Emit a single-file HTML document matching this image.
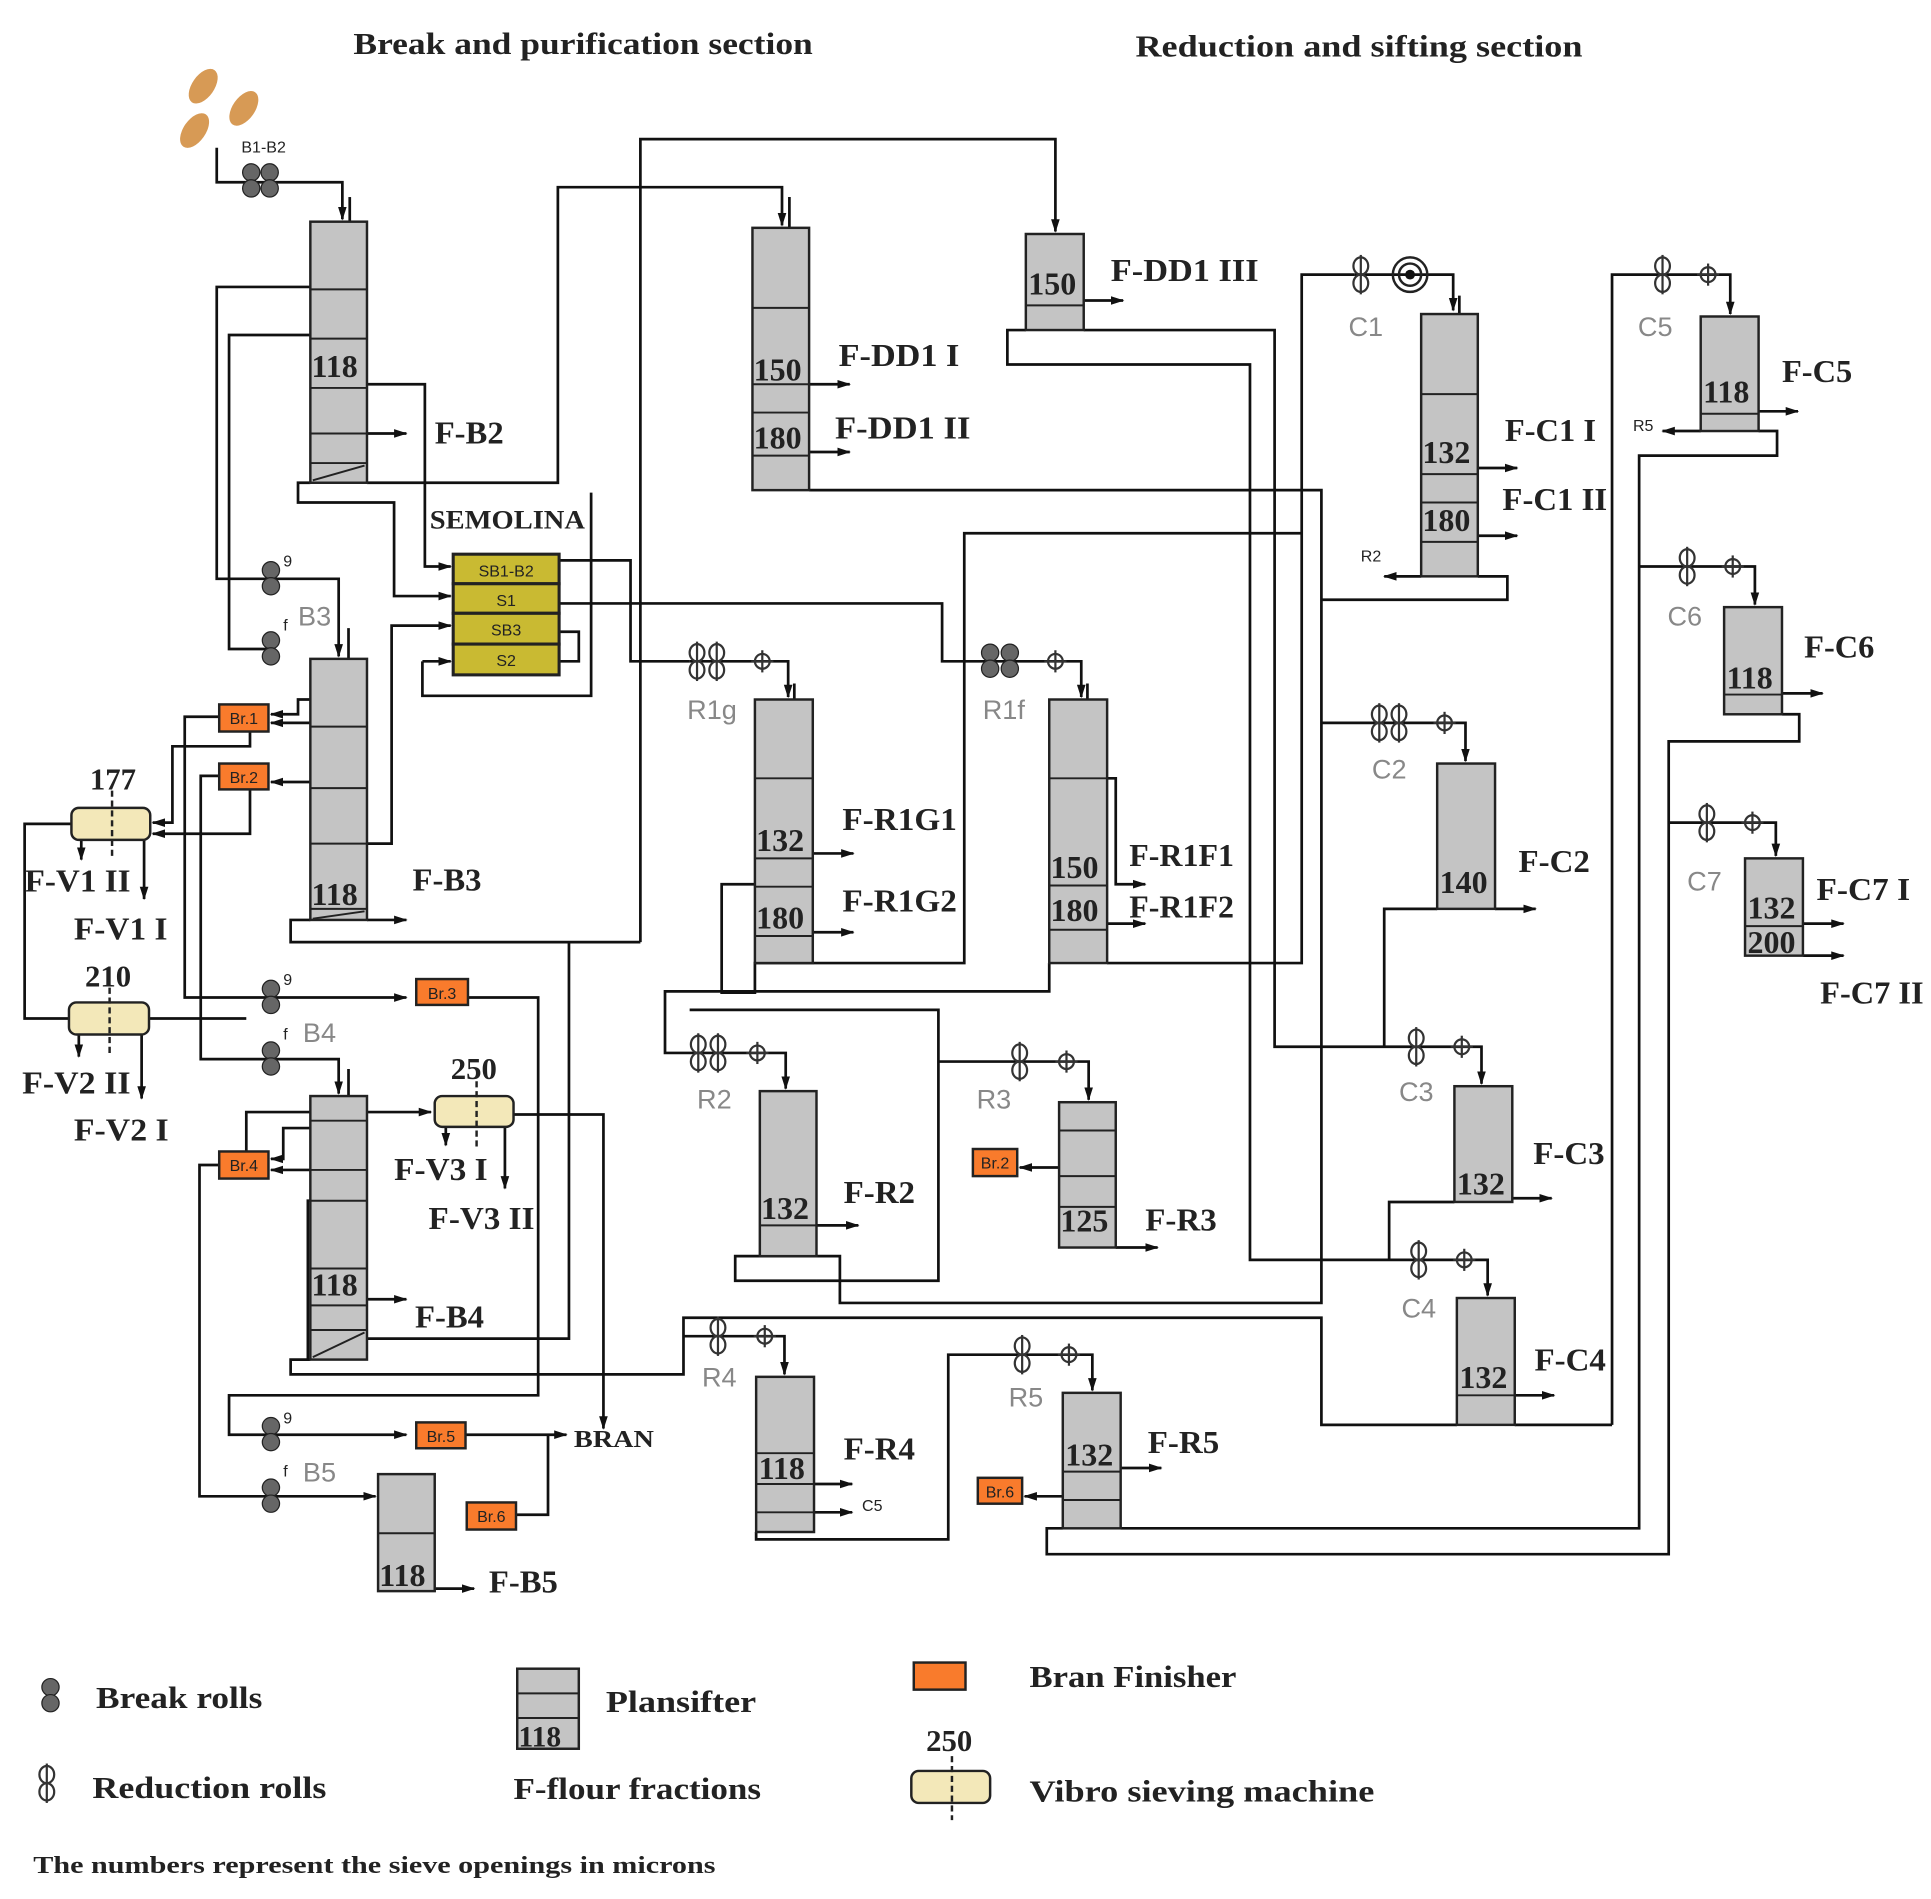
<!DOCTYPE html>
<html><head><meta charset="utf-8"><style>
html,body{margin:0;padding:0;background:#fff;}
svg{display:block;}
text{font-family:"Liberation Serif",serif;font-weight:bold;fill:#222;}
.l{fill:none;stroke:#111;stroke-width:2.2;}
.p{fill:#c4c4c4;stroke:#222;stroke-width:2;}
.d{stroke:#222;stroke-width:1.6;}
.br{fill:#f97b2c;stroke:#222;stroke-width:2;}
.bt{font-family:"Liberation Sans",sans-serif;font-weight:normal;font-size:13px;fill:#222;}
.v{fill:#f3e8b9;stroke:#222;stroke-width:2;}
.g{font-family:"Liberation Sans",sans-serif;font-weight:normal;fill:#888;font-size:22px;}
.n{font-size:26px;}
.lab text{font-size:26px;}
</style></head><body>
<svg width="1931" height="1899" viewBox="0 0 1568 1542" preserveAspectRatio="none" xmlns="http://www.w3.org/2000/svg">
<defs>
<marker id="a" markerUnits="userSpaceOnUse" markerWidth="11" markerHeight="9" refX="10" refY="4.5" orient="auto"><path d="M0,1 L11,4.5 L0,8 z" fill="#111"/></marker>
<g id="brk"><circle cx="0" cy="0" r="7" fill="#666" stroke="#222"/><circle cx="0" cy="13" r="7" fill="#666" stroke="#222"/></g>
<g id="red"><ellipse cx="0" cy="-7" rx="6" ry="7" fill="none" stroke="#333" stroke-width="1.8"/><ellipse cx="0" cy="7" rx="6" ry="7" fill="none" stroke="#333" stroke-width="1.8"/><line x1="0" y1="-16" x2="0" y2="16" stroke="#333" stroke-width="1.8"/></g>
<g id="sm"><circle cx="0" cy="0" r="6" fill="none" stroke="#333" stroke-width="1.8"/><line x1="0" y1="-9" x2="0" y2="9" stroke="#333" stroke-width="1.8"/><line x1="-9" y1="0" x2="9" y2="0" stroke="#333" stroke-width="1.5"/></g>
</defs>

<text x="287" y="44" font-size="25" textLength="373" lengthAdjust="spacingAndGlyphs">Break and purification section</text>
<text x="922" y="46" font-size="25" textLength="363" lengthAdjust="spacingAndGlyphs">Reduction and sifting section</text>

<ellipse cx="165" cy="70" rx="9" ry="16" transform="rotate(35 165 70)" fill="#d79a55"/>
<ellipse cx="198" cy="88" rx="9" ry="16" transform="rotate(35 198 88)" fill="#d79a55"/>
<ellipse cx="158" cy="106" rx="9" ry="16" transform="rotate(35 158 106)" fill="#d79a55"/>

<g class="l">
<polyline points="176,120 176,148 278,148 278,178" marker-end="url(#a)"/>
<polyline points="284,160 284,210" marker-end="url(#a)"/>
<polyline points="252,233 176,233 176,470 220,470"/>
<polyline points="252,272 186,272 186,527 220,527"/>
<polyline points="298,312 345,312 345,460 366,460" marker-end="url(#a)"/>
<polyline points="298,352 330,352" marker-end="url(#a)"/>
<polyline points="252,392 242,392 242,408 320,408 320,484 366,484" marker-end="url(#a)"/>
<polyline points="298,392 453,392 453,152 635,152 635,183" marker-end="url(#a)"/>
<polyline points="641,160 641,214" marker-end="url(#a)"/>
<polyline points="520,765 520,113 857,113 857,188" marker-end="url(#a)"/>
<polyline points="880,244 912,244" marker-end="url(#a)"/>
<polyline points="833,268 818,268 818,296 1015,296 1015,1023 1150,1023"/>
<polyline points="880,268 1035,268 1035,850 1150,850"/>
<polyline points="657,312 690,312" marker-end="url(#a)"/>
<polyline points="657,367 690,367" marker-end="url(#a)"/>
<polyline points="657,398 1073,398 1073,1058 682,1058 682,1020 597,1020 597,1040 663,1040"/>
<polyline points="454,455 512,455 512,537 560,537"/>
<polyline points="454,490 765,490 765,537 800,537"/>
<polyline points="454,513 470,513 470,537 454,537"/>
<polyline points="343,537 343,565 480,565 480,400"/>
<polyline points="343,537 366,537" marker-end="url(#a)"/>
<polyline points="298,685 318,685 318,508 366,508" marker-end="url(#a)"/>
<polyline points="220,470 275,470 275,533" marker-end="url(#a)"/>
<polyline points="283,510 283,570" marker-end="url(#a)"/>
<polyline points="252,568 242,568 242,580 220,580" marker-end="url(#a)"/>
<polyline points="252,587 220,587" marker-end="url(#a)"/>
<polyline points="252,635 220,635" marker-end="url(#a)"/>
<polyline points="178,582 150,582 150,810 330,810" marker-end="url(#a)"/>
<polyline points="203,594 203,606 140,606 140,668 124,668" marker-end="url(#a)"/>
<polyline points="178,630 163,630 163,860 275,860 275,888" marker-end="url(#a)"/>
<polyline points="203,641 203,677 124,677" marker-end="url(#a)"/>
<polyline points="58,669 20,669 20,827 58,827"/>
<polyline points="121,827 200,827"/>
<polyline points="66,682 66,698" marker-end="url(#a)"/>
<polyline points="117,682 117,730" marker-end="url(#a)"/>
<polyline points="64,840 64,858" marker-end="url(#a)"/>
<polyline points="115,840 115,892" marker-end="url(#a)"/>
<polyline points="252,747 236,747 236,765 520,765"/>
<polyline points="298,747 330,747" marker-end="url(#a)"/>
<polyline points="380,810 437,810 437,1133 186,1133 186,1165 330,1165" marker-end="url(#a)"/>
<polyline points="283,868 283,935" marker-end="url(#a)"/>
<polyline points="252,916 230,916 230,941 220,941" marker-end="url(#a)"/>
<polyline points="252,950 220,950" marker-end="url(#a)"/>
<polyline points="200,935 200,903 350,903" marker-end="url(#a)"/>
<polyline points="362,915 362,930" marker-end="url(#a)"/>
<polyline points="410,915 410,965" marker-end="url(#a)"/>
<polyline points="417,905 490,905 490,1160" marker-end="url(#a)"/>
<polyline points="178,946 162,946 162,1215 305,1215" marker-end="url(#a)"/>
<polyline points="252,975 250,975 250,1104"/>
<polyline points="298,1055 330,1055" marker-end="url(#a)"/>
<polyline points="298,1087 462,1087 462,765"/>
<polyline points="252,1104 236,1104 236,1116 555,1116 555,1070 1073,1070 1073,1157 1183,1157"/>
<polyline points="378,1165 460,1165" marker-end="url(#a)"/>
<polyline points="419,1230 445,1230 445,1165"/>
<polyline points="353,1290 385,1290" marker-end="url(#a)"/>
<polyline points="560,537 640,537 640,566" marker-end="url(#a)"/>
<polyline points="645,555 645,640" marker-end="url(#a)"/>
<polyline points="660,693 693,693" marker-end="url(#a)"/>
<polyline points="660,757 693,757" marker-end="url(#a)"/>
<polyline points="613,718 586,718 586,806 613,806 613,782 783,782 783,433 1057,433"/>
<polyline points="613,805 540,805 540,855 638,855 638,884" marker-end="url(#a)"/>
<polyline points="800,537 878,537 878,566" marker-end="url(#a)"/>
<polyline points="883,555 883,640" marker-end="url(#a)"/>
<polyline points="899,632 906,632 906,718 930,718" marker-end="url(#a)"/>
<polyline points="899,750 930,750" marker-end="url(#a)"/>
<polyline points="852,782 852,805 613,805"/>
<polyline points="899,782 1057,782 1057,223 1100,223"/>
<polyline points="663,995 697,995" marker-end="url(#a)"/>
<polyline points="560,820 762,820 762,1040 663,1040"/>
<polyline points="762,862 884,862 884,893" marker-end="url(#a)"/>
<polyline points="860,948 828,948" marker-end="url(#a)"/>
<polyline points="906,1013 940,1013" marker-end="url(#a)"/>
<polyline points="555,1085 637,1085 637,1116" marker-end="url(#a)"/>
<polyline points="661,1205 692,1205" marker-end="url(#a)"/>
<polyline points="661,1228 692,1228" marker-end="url(#a)"/>
<polyline points="614,1244 614,1250 770,1250 770,1100 887,1100 887,1129" marker-end="url(#a)"/>
<polyline points="863,1215 832,1215" marker-end="url(#a)"/>
<polyline points="910,1192 943,1192" marker-end="url(#a)"/>
<polyline points="910,1241 1331,1241 1331,370 1443,370 1443,350 1428,350"/>
<polyline points="863,1241 850,1241 850,1262 1355,1262 1355,602 1461,602 1461,580 1447,580"/>
<polyline points="1100,223 1180,223 1180,252" marker-end="url(#a)"/>
<polyline points="1185,240 1185,330" marker-end="url(#a)"/>
<polyline points="1200,380 1232,380" marker-end="url(#a)"/>
<polyline points="1200,435 1232,435" marker-end="url(#a)"/>
<polyline points="1154,468 1124,468" marker-end="url(#a)"/>
<polyline points="1073,487 1224,487 1224,468 1200,468"/>
<polyline points="1309,1157 1309,223 1405,223 1405,255" marker-end="url(#a)"/>
<polyline points="1381,350 1350,350" marker-end="url(#a)"/>
<polyline points="1428,334 1460,334" marker-end="url(#a)"/>
<polyline points="1331,460 1425,460 1425,491" marker-end="url(#a)"/>
<polyline points="1447,563 1480,563" marker-end="url(#a)"/>
<polyline points="1073,587 1190,587 1190,618" marker-end="url(#a)"/>
<polyline points="1214,738 1247,738" marker-end="url(#a)"/>
<polyline points="1167,738 1124,738 1124,850"/>
<polyline points="1150,850 1203,850 1203,880" marker-end="url(#a)"/>
<polyline points="1228,973 1260,973" marker-end="url(#a)"/>
<polyline points="1181,976 1128,976 1128,1023"/>
<polyline points="1150,1023 1208,1023 1208,1052" marker-end="url(#a)"/>
<polyline points="1230,1133 1262,1133" marker-end="url(#a)"/>
<polyline points="1230,1157 1309,1157"/>
<polyline points="1355,668 1442,668 1442,695" marker-end="url(#a)"/>
<polyline points="1464,750 1497,750" marker-end="url(#a)"/>
<polyline points="1464,776 1497,776" marker-end="url(#a)"/>
</g>

<g>
<rect class="p" x="252" y="180" width="46" height="212"/>
<line class="d" x1="252" y1="235" x2="298" y2="235"/><line class="d" x1="252" y1="275" x2="298" y2="275"/><line class="d" x1="252" y1="315" x2="298" y2="315"/><line class="d" x1="252" y1="352" x2="298" y2="352"/><line class="d" x1="252" y1="376" x2="298" y2="376"/><line class="d" x1="254" y1="390" x2="296" y2="378"/>
<text class="n" x="253" y="306">118</text>
<rect class="p" x="611" y="185" width="46" height="213"/>
<line class="d" x1="611" y1="250" x2="657" y2="250"/><line class="d" x1="611" y1="312" x2="657" y2="312"/><line class="d" x1="611" y1="335" x2="657" y2="335"/><line class="d" x1="611" y1="370" x2="657" y2="370"/>
<text class="n" x="612" y="309">150</text><text class="n" x="612" y="364">180</text>
<rect class="p" x="833" y="190" width="47" height="78"/>
<line class="d" x1="833" y1="248" x2="880" y2="248"/>
<text class="n" x="835" y="239">150</text>
<rect class="p" x="1154" y="255" width="46" height="213"/>
<line class="d" x1="1154" y1="320" x2="1200" y2="320"/><line class="d" x1="1154" y1="385" x2="1200" y2="385"/><line class="d" x1="1154" y1="408" x2="1200" y2="408"/><line class="d" x1="1154" y1="440" x2="1200" y2="440"/>
<text class="n" x="1155" y="376">132</text><text class="n" x="1155" y="431">180</text>
<rect class="p" x="1381" y="257" width="47" height="93"/>
<line class="d" x1="1381" y1="336" x2="1428" y2="336"/>
<text class="n" x="1383" y="327">118</text>
<rect class="p" x="252" y="535" width="46" height="212"/>
<line class="d" x1="252" y1="590" x2="298" y2="590"/><line class="d" x1="252" y1="640" x2="298" y2="640"/><line class="d" x1="252" y1="685" x2="298" y2="685"/><line class="d" x1="252" y1="738" x2="298" y2="738"/><line class="d" x1="254" y1="746" x2="296" y2="740"/>
<text class="n" x="253" y="735">118</text>
<rect class="p" x="613" y="568" width="47" height="214"/>
<line class="d" x1="613" y1="632" x2="660" y2="632"/><line class="d" x1="613" y1="697" x2="660" y2="697"/><line class="d" x1="613" y1="720" x2="660" y2="720"/><line class="d" x1="613" y1="760" x2="660" y2="760"/>
<text class="n" x="614" y="691">132</text><text class="n" x="614" y="754">180</text>
<rect class="p" x="852" y="568" width="47" height="214"/>
<line class="d" x1="852" y1="632" x2="899" y2="632"/><line class="d" x1="852" y1="719" x2="899" y2="719"/><line class="d" x1="852" y1="755" x2="899" y2="755"/>
<text class="n" x="853" y="713">150</text><text class="n" x="853" y="748">180</text>
<rect class="p" x="1400" y="493" width="47" height="87"/>
<line class="d" x1="1400" y1="564" x2="1447" y2="564"/>
<text class="n" x="1402" y="559">118</text>
<rect class="p" x="1167" y="620" width="47" height="118"/>
<text class="n" x="1169" y="725">140</text>
<rect class="p" x="1417" y="697" width="47" height="79"/>
<line class="d" x1="1417" y1="752" x2="1464" y2="752"/>
<text class="n" x="1419" y="746">132</text><text class="n" x="1419" y="774">200</text>
<rect class="p" x="252" y="890" width="46" height="214"/>
<line class="d" x1="252" y1="910" x2="298" y2="910"/><line class="d" x1="252" y1="950" x2="298" y2="950"/><line class="d" x1="252" y1="975" x2="298" y2="975"/><line class="d" x1="252" y1="1030" x2="298" y2="1030"/><line class="d" x1="252" y1="1060" x2="298" y2="1060"/><line class="d" x1="252" y1="1080" x2="298" y2="1080"/><line class="d" x1="254" y1="1102" x2="296" y2="1082"/>
<text class="n" x="253" y="1052">118</text>
<rect class="p" x="617" y="886" width="46" height="134"/>
<line class="d" x1="617" y1="995" x2="663" y2="995"/>
<text class="n" x="618" y="990">132</text>
<rect class="p" x="860" y="895" width="46" height="118"/>
<line class="d" x1="860" y1="918" x2="906" y2="918"/><line class="d" x1="860" y1="955" x2="906" y2="955"/><line class="d" x1="860" y1="980" x2="906" y2="980"/>
<text class="n" x="861" y="1000">125</text>
<rect class="p" x="1181" y="882" width="47" height="94"/>
<text class="n" x="1183" y="970">132</text>
<rect class="p" x="1183" y="1054" width="47" height="103"/>
<line class="d" x1="1183" y1="1133" x2="1230" y2="1133"/>
<text class="n" x="1185" y="1127">132</text>
<rect class="p" x="614" y="1118" width="47" height="126"/>
<line class="d" x1="614" y1="1180" x2="661" y2="1180"/><line class="d" x1="614" y1="1205" x2="661" y2="1205"/><line class="d" x1="614" y1="1228" x2="661" y2="1228"/>
<text class="n" x="616" y="1201">118</text>
<rect class="p" x="863" y="1131" width="47" height="110"/>
<line class="d" x1="863" y1="1195" x2="910" y2="1195"/><line class="d" x1="863" y1="1218" x2="910" y2="1218"/>
<text class="n" x="865" y="1190">132</text>
<rect class="p" x="307" y="1197" width="46" height="95"/>
<line class="d" x1="307" y1="1245" x2="353" y2="1245"/>
<text class="n" x="308" y="1288">118</text>
</g>

<text x="349" y="429" font-size="21" textLength="126" lengthAdjust="spacingAndGlyphs">SEMOLINA</text>
<g>
<rect x="368" y="450" width="86" height="24" fill="#c9ba32" stroke="#222" stroke-width="2.5"/>
<rect x="368" y="474" width="86" height="24" fill="#c9ba32" stroke="#222" stroke-width="2.5"/>
<rect x="368" y="498" width="86" height="25" fill="#c9ba32" stroke="#222" stroke-width="2.5"/>
<rect x="368" y="523" width="86" height="25" fill="#c9ba32" stroke="#222" stroke-width="2.5"/>
<text class="bt" x="411" y="468" text-anchor="middle" font-size="15">SB1-B2</text>
<text class="bt" x="411" y="492" text-anchor="middle" font-size="15">S1</text>
<text class="bt" x="411" y="516" text-anchor="middle" font-size="15">SB3</text>
<text class="bt" x="411" y="541" text-anchor="middle" font-size="15">S2</text>
</g>

<g>
<rect class="br" x="178" y="572" width="40" height="22"/><text class="bt" x="198" y="588" text-anchor="middle">Br.1</text>
<rect class="br" x="178" y="620" width="40" height="21"/><text class="bt" x="198" y="636" text-anchor="middle">Br.2</text>
<rect class="br" x="338" y="795" width="42" height="21"/><text class="bt" x="359" y="811" text-anchor="middle">Br.3</text>
<rect class="br" x="178" y="935" width="40" height="22"/><text class="bt" x="198" y="951" text-anchor="middle">Br.4</text>
<rect class="br" x="338" y="1155" width="40" height="21"/><text class="bt" x="358" y="1171" text-anchor="middle">Br.5</text>
<rect class="br" x="379" y="1220" width="40" height="22"/><text class="bt" x="399" y="1236" text-anchor="middle">Br.6</text>
<rect class="br" x="790" y="933" width="36" height="22"/><text class="bt" x="808" y="949" text-anchor="middle">Br.2</text>
<rect class="br" x="794" y="1200" width="36" height="21"/><text class="bt" x="812" y="1216" text-anchor="middle">Br.6</text>
</g>

<rect class="v" x="58" y="656" width="64" height="26" rx="6"/><line x1="91" y1="642" x2="91" y2="698" stroke="#222" stroke-width="2" stroke-dasharray="5,3"/>
<text x="73" y="641" font-size="25">177</text>
<rect class="v" x="56" y="814" width="65" height="26" rx="6"/><line x1="89" y1="802" x2="89" y2="856" stroke="#222" stroke-width="2" stroke-dasharray="5,3"/>
<text x="69" y="801" font-size="25">210</text>
<rect class="v" x="353" y="890" width="64" height="25" rx="6"/><line x1="387" y1="878" x2="387" y2="933" stroke="#222" stroke-width="2" stroke-dasharray="5,3"/>
<text x="366" y="876" font-size="25">250</text>

<g>
<use href="#brk" x="204" y="140"/><use href="#brk" x="219" y="140"/>
<text class="bt" x="196" y="124" font-size="14">B1-B2</text>
<use href="#brk" x="220" y="463"/><use href="#brk" x="220" y="520"/>
<text class="bt" x="230" y="460" font-size="14">9</text><text class="bt" x="230" y="512" font-size="14">f</text>
<text class="g" x="242" y="508" font-size="24">B3</text>
<use href="#brk" x="220" y="803"/><use href="#brk" x="220" y="853"/>
<text class="bt" x="230" y="800" font-size="14">9</text><text class="bt" x="230" y="844" font-size="14">f</text>
<text class="g" x="246" y="846" font-size="24">B4</text>
<use href="#brk" x="220" y="1158"/><use href="#brk" x="220" y="1208"/>
<text class="bt" x="230" y="1156" font-size="14">9</text><text class="bt" x="230" y="1199" font-size="14">f</text>
<text class="g" x="246" y="1203" font-size="24">B5</text>
<use href="#red" x="566" y="537"/><use href="#red" x="582" y="537"/><use href="#sm" x="619" y="537"/><text class="g" x="558" y="584">R1g</text>
<use href="#brk" x="804" y="530"/><use href="#brk" x="820" y="530"/><use href="#sm" x="857" y="537"/><text class="g" x="798" y="584">R1f</text>
<use href="#red" x="567" y="855"/><use href="#red" x="583" y="855"/><use href="#sm" x="615" y="855"/><text class="g" x="566" y="900">R2</text>
<use href="#red" x="828" y="862"/><use href="#sm" x="866" y="862"/><text class="g" x="793" y="900">R3</text>
<use href="#red" x="583" y="1085"/><use href="#sm" x="621" y="1085"/><text class="g" x="570" y="1126">R4</text>
<use href="#red" x="830" y="1100"/><use href="#sm" x="868" y="1100"/><text class="g" x="819" y="1142">R5</text>
<use href="#red" x="1105" y="223"/><circle cx="1145" cy="223" r="14" fill="none" stroke="#222" stroke-width="2"/><circle cx="1145" cy="223" r="9" fill="none" stroke="#222" stroke-width="2"/><circle cx="1145" cy="223" r="4" fill="#111"/><text class="g" x="1095" y="273">C1</text>
<use href="#red" x="1350" y="223"/><use href="#sm" x="1387" y="223"/><text class="g" x="1330" y="273">C5</text>
<use href="#red" x="1370" y="460"/><use href="#sm" x="1407" y="460"/><text class="g" x="1354" y="508">C6</text>
<use href="#red" x="1120" y="587"/><use href="#red" x="1136" y="587"/><use href="#sm" x="1173" y="587"/><text class="g" x="1114" y="632">C2</text>
<use href="#red" x="1386" y="668"/><use href="#sm" x="1423" y="668"/><text class="g" x="1370" y="723">C7</text>
<use href="#red" x="1150" y="850"/><use href="#sm" x="1187" y="850"/><text class="g" x="1136" y="894">C3</text>
<use href="#red" x="1152" y="1023"/><use href="#sm" x="1189" y="1023"/><text class="g" x="1138" y="1070">C4</text>
</g>

<text class="bt" x="1326" y="350" font-size="15">R5</text>
<text class="bt" x="1105" y="456" font-size="15">R2</text>
<text class="bt" x="700" y="1227" font-size="15">C5</text>
<text x="466" y="1175" font-size="20" textLength="65" lengthAdjust="spacingAndGlyphs">BRAN</text>

<g class="lab">
<text x="353" y="360" textLength="56" lengthAdjust="spacingAndGlyphs">F-B2</text>
<text x="681" y="297" textLength="98" lengthAdjust="spacingAndGlyphs">F-DD1 I</text>
<text x="678" y="356" textLength="110" lengthAdjust="spacingAndGlyphs">F-DD1 II</text>
<text x="902" y="228" textLength="120" lengthAdjust="spacingAndGlyphs">F-DD1 III</text>
<text x="1222" y="358" textLength="74" lengthAdjust="spacingAndGlyphs">F-C1 I</text>
<text x="1220" y="414" textLength="85" lengthAdjust="spacingAndGlyphs">F-C1 II</text>
<text x="1447" y="310" textLength="57" lengthAdjust="spacingAndGlyphs">F-C5</text>
<text x="1465" y="534" textLength="57" lengthAdjust="spacingAndGlyphs">F-C6</text>
<text x="335" y="723" textLength="56" lengthAdjust="spacingAndGlyphs">F-B3</text>
<text x="684" y="674" textLength="93" lengthAdjust="spacingAndGlyphs">F-R1G1</text>
<text x="684" y="740" textLength="93" lengthAdjust="spacingAndGlyphs">F-R1G2</text>
<text x="917" y="703" textLength="85" lengthAdjust="spacingAndGlyphs">F-R1F1</text>
<text x="917" y="745" textLength="85" lengthAdjust="spacingAndGlyphs">F-R1F2</text>
<text x="1233" y="708" textLength="58" lengthAdjust="spacingAndGlyphs">F-C2</text>
<text x="1475" y="731" textLength="76" lengthAdjust="spacingAndGlyphs">F-C7 I</text>
<text x="1478" y="815" textLength="84" lengthAdjust="spacingAndGlyphs">F-C7 II</text>
<text x="20" y="724" textLength="86" lengthAdjust="spacingAndGlyphs">F-V1 II</text>
<text x="60" y="763" textLength="76" lengthAdjust="spacingAndGlyphs">F-V1 I</text>
<text x="18" y="888" textLength="88" lengthAdjust="spacingAndGlyphs">F-V2 II</text>
<text x="60" y="926" textLength="77" lengthAdjust="spacingAndGlyphs">F-V2 I</text>
<text x="320" y="958" textLength="76" lengthAdjust="spacingAndGlyphs">F-V3 I</text>
<text x="348" y="998" textLength="86" lengthAdjust="spacingAndGlyphs">F-V3 II</text>
<text x="685" y="977" textLength="58" lengthAdjust="spacingAndGlyphs">F-R2</text>
<text x="930" y="999" textLength="58" lengthAdjust="spacingAndGlyphs">F-R3</text>
<text x="1245" y="945" textLength="58" lengthAdjust="spacingAndGlyphs">F-C3</text>
<text x="337" y="1078" textLength="56" lengthAdjust="spacingAndGlyphs">F-B4</text>
<text x="1246" y="1113" textLength="58" lengthAdjust="spacingAndGlyphs">F-C4</text>
<text x="685" y="1185" textLength="58" lengthAdjust="spacingAndGlyphs">F-R4</text>
<text x="932" y="1180" textLength="58" lengthAdjust="spacingAndGlyphs">F-R5</text>
<text x="397" y="1293" textLength="56" lengthAdjust="spacingAndGlyphs">F-B5</text>
</g>

<use href="#brk" x="41" y="1370"/><text x="78" y="1387" font-size="25" textLength="135" lengthAdjust="spacingAndGlyphs">Break rolls</text>
<use href="#red" x="38" y="1448"/><text x="75" y="1460" font-size="25" textLength="190" lengthAdjust="spacingAndGlyphs">Reduction rolls</text>
<rect class="p" x="420" y="1355" width="50" height="65"/>
<line class="d" x1="420" y1="1375" x2="470" y2="1375"/><line class="d" x1="420" y1="1395" x2="470" y2="1395"/>
<text x="421" y="1418" font-size="24">118</text>
<text x="492" y="1390" font-size="25" textLength="122" lengthAdjust="spacingAndGlyphs">Plansifter</text>
<text x="417" y="1461" font-size="25" textLength="201" lengthAdjust="spacingAndGlyphs">F-flour fractions</text>
<rect class="br" x="742" y="1350" width="42" height="22"/>
<text x="836" y="1370" font-size="25" textLength="168" lengthAdjust="spacingAndGlyphs">Bran Finisher</text>
<text x="752" y="1422" font-size="25">250</text>
<rect class="v" x="740" y="1438" width="64" height="26" rx="6"/><line x1="773" y1="1426" x2="773" y2="1478" stroke="#222" stroke-width="2" stroke-dasharray="5,3"/>
<text x="836" y="1463" font-size="25" textLength="280" lengthAdjust="spacingAndGlyphs">Vibro sieving machine</text>
<text x="27" y="1521" font-size="20" textLength="554" lengthAdjust="spacingAndGlyphs">The numbers represent the sieve openings in microns</text>
</svg>
</body></html>
